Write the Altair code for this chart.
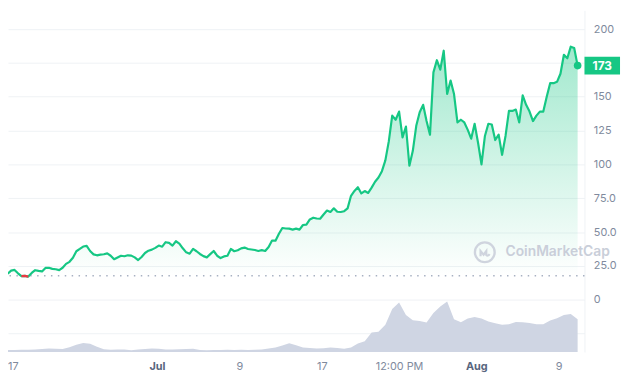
import altair as alt
import pandas as pd

# ---------------- data ----------------
BASE_PRICE = 17.7            # reference (opening) price, dotted line
PRICE_START_DAY = 0.5        # days since 16 Jun 00:00
PRICE_STEP_DAYS = 1 / 3      # one sample every 8 hours
price = [
    19.2, 21.5, 22.0, 19.5, 17.4, 17.6, 17.1, 19.8, 21.8, 21.3,
    20.9, 23.5, 23.6, 22.8, 22.5, 21.9, 23.6, 26.5, 28.0, 31.0,
    35.8, 37.5, 39.3, 39.8, 36.0, 33.5, 32.8, 33.3, 33.6, 34.2,
    32.5, 29.9, 31.2, 32.5, 32.1, 32.8, 32.6, 31.3, 29.3, 31.6,
    34.5, 36.2, 37.0, 38.3, 40.0, 39.2, 42.5, 42.0, 40.0, 43.2,
    41.5, 38.0, 35.0, 34.0, 37.5, 35.8, 33.8, 32.2, 31.3, 33.7,
    36.0, 32.5, 30.8, 32.0, 32.5, 37.5, 35.8, 36.5, 37.9, 38.5,
    37.5, 37.1, 36.7, 36.0, 36.6, 36.0, 39.0, 43.7, 43.6, 48.7,
    53.0, 52.6, 52.5, 51.8, 52.5, 51.8, 55.2, 55.5, 59.3, 60.6,
    60.0, 59.8, 63.0, 65.9, 64.8, 67.5, 65.0, 64.8, 65.4, 67.5,
    76.8, 80.4, 83.1, 78.5, 80.3, 78.9, 82.8, 87.2, 90.3, 95.0,
    103.0, 117.0, 136.0, 133.0, 139.0, 120.0, 128.0, 99.0, 110.0, 128.5,
    138.5, 144.0, 132.0, 122.0, 168.0, 177.0, 170.0, 184.0, 152.0, 162.0,
    152.0, 131.0, 133.0, 131.0, 125.5, 119.0, 130.0, 116.0, 100.0, 121.0,
    130.0, 129.5, 118.0, 122.0, 107.0, 121.0, 139.5, 139.5, 140.5, 131.0,
    151.0, 144.0, 139.0, 132.0, 136.0, 139.0, 139.0, 150.0, 160.0, 160.0,
    161.0, 167.0, 181.0, 178.4, 187.0, 186.0, 173.0,
]

VOLUME_START_DAY = 0.5
VOLUME_STEP_DAYS = 2 / 3
volume = [
    2.0, 2.0, 2.2, 2.2, 2.5, 3.0, 3.4, 3.3, 3.0, 4.8,
    7.4, 9.0, 8.2, 5.3, 2.8, 2.1, 2.4, 2.6, 1.8, 2.5,
    3.0, 3.6, 3.3, 2.6, 2.5, 2.7, 2.9, 3.3, 2.0, 1.6,
    2.0, 2.0, 2.2, 1.9, 2.1, 2.0, 2.2, 2.6, 3.4, 4.6,
    6.5, 8.7, 6.8, 4.5, 4.0, 3.4, 3.8, 4.6, 4.0, 3.3,
    4.5, 8.5, 10.8, 19.8, 20.5, 27.5, 43.5, 50.0, 37.5, 32.0,
    31.3, 29.8, 39.5, 46.0, 51.0, 33.0, 30.0, 33.8, 35.5, 34.0,
    30.8, 29.0, 27.5, 28.0, 30.3, 30.2, 29.2, 28.0, 28.0, 31.8,
    34.2, 37.3, 38.5, 33.0,
]

tick_days = [1, 15, 23, 31, 38.5, 46, 54]
tick_labels = ["17", "Jul", "9", "17", "12:00 PM", "Aug", "9"]
month_tick_days = [15, 46]
price_ticks = [-25, 0, 25, 50, 75, 100, 125, 150, 175, 200]
hidden_price_labels = [175]          # covered by the current-price badge
watermark = ["CoinMarketCap"]

# ---------------- styling ----------------
GREEN = "#16c784"
RED = "#ea3943"
GRID = "#eff2f5"
LABEL = "#808a9d"
LABEL_DARK = "#58667e"
FONT = "Inter"
W, H = 584, 346
X_DOMAIN = [0.53, 56.5]
Y_DOMAIN = [-38.6, 213.8]
VOL_DOMAIN = [0, 346]

df_price = pd.DataFrame({
    "day": [PRICE_START_DAY + i * PRICE_STEP_DAYS for i in range(len(price))],
    "price": price,
})
df_price["base"] = BASE_PRICE
df_red = df_price[df_price["price"] < BASE_PRICE]
df_last = df_price.tail(1).copy()
df_last["label"] = df_last["price"].round().astype(int).astype(str)
df_base = pd.DataFrame({"base": [BASE_PRICE]})
df_vol = pd.DataFrame({
    "day": [VOLUME_START_DAY + i * VOLUME_STEP_DAYS for i in range(len(volume))],
    "volume": volume,
})
df_wm = pd.DataFrame({"label": watermark})

label_expr = "''"
for d, lab in reversed(list(zip(tick_days, tick_labels))):
    label_expr = f"datum.value == {d} ? '{lab}' : ({label_expr})"
month_test = " || ".join(f"datum.value == {d}" for d in month_tick_days)
hidden_test = " || ".join(f"datum.value == {v}" for v in hidden_price_labels)

x_axis = alt.Axis(
    values=tick_days, labelExpr=label_expr, grid=False, domain=False,
    ticks=False, tickSize=0, labelPadding=9, labelFontSize=11, labelFont=FONT,
    labelColor={"condition": {"test": month_test, "value": LABEL_DARK}, "value": LABEL},
    labelFontWeight={"condition": {"test": month_test, "value": 700}, "value": 400},
    labelOverlap=False, labelBound=False, title=None,
)
X = alt.X("day:Q", scale=alt.Scale(domain=X_DOMAIN, nice=False, zero=False), axis=x_axis)

y_axis = alt.Axis(
    orient="right", values=price_ticks,
    labelExpr=(f"(datum.value < 0 || {hidden_test}) ? '' : (datum.value == 0 ? '0' : "
               "(datum.value < 100 ? format(datum.value, '.1f') : format(datum.value, 'd')))"),
    grid=True, gridColor=GRID, gridWidth=1, domain=True, domainColor=GRID,
    ticks=False, tickSize=0, labelPadding=9, labelFontSize=11, labelFont=FONT,
    labelColor=LABEL, labelOverlap=False, title=None,
)
y_scale = alt.Scale(domain=Y_DOMAIN, nice=False, zero=False)


def Yp(field):
    return alt.Y(f"{field}:Q", scale=y_scale, axis=y_axis)


gradient = alt.Gradient(
    gradient="linear",
    stops=[alt.GradientStop(color="rgba(22,199,132,0.0)", offset=0),
           alt.GradientStop(color="rgba(22,199,132,0.40)", offset=1)],
    x1=1, x2=1, y1=1, y2=0,
)

vol_layer = alt.Chart(df_vol).mark_area(color="#cfd5e3", opacity=1).encode(
    x=X,
    y=alt.Y("volume:Q", scale=alt.Scale(domain=VOL_DOMAIN, nice=False, zero=True), axis=None),
)

area = alt.Chart(df_price).mark_area(color=gradient).encode(x=X, y=Yp("price"), y2="base:Q")
base_rule = alt.Chart(df_base).mark_rule(
    color="#a7b1c2", strokeDash=[1.5, 5.5], strokeWidth=1.3
).encode(y=Yp("base"))
line = alt.Chart(df_price).mark_line(color=GREEN, strokeWidth=2.2, strokeJoin="round").encode(
    x=X, y=Yp("price"))
red_line = alt.Chart(df_red).mark_line(color=RED, strokeWidth=2.2, strokeJoin="round").encode(
    x=X, y=Yp("price"))
dot = alt.Chart(df_last).mark_circle(color=GREEN, size=60, opacity=1).encode(x=X, y=Yp("price"))
badge = alt.Chart(df_last).mark_rect(color=GREEN, yOffset=-9, y2Offset=9).encode(
    x=alt.value(584), x2=alt.value(620), y=Yp("price"), y2="price:Q")
badge_text = alt.Chart(df_last).mark_text(
    color="white", fontWeight="bold", fontSize=12, font=FONT, align="center", baseline="middle"
).encode(x=alt.value(602), y=Yp("price"), text="label:N")

wm_ring = alt.Chart(df_wm).mark_point(
    shape="circle", filled=False, size=400, strokeWidth=2.4, color="#cfd4de", opacity=1
).encode(x=alt.value(483), y=alt.value(245))
wm_m = alt.Chart(df_wm).mark_point(
    shape="M-0.7,0.5L-0.7,-0.35L-0.2,0.25L0.25,-0.35L0.25,0.3Q0.5,0.55 0.8,0.15",
    filled=False, size=150, strokeWidth=2.2, color="#cfd4de", opacity=1
).encode(x=alt.value(483), y=alt.value(246))
wm_text = alt.Chart(df_wm).mark_text(
    font=FONT, fontSize=14, fontWeight=600, color="#c9ced9", align="left", baseline="middle"
).encode(x=alt.value(504), y=alt.value(245), text="label:N")

price_layers = alt.layer(area, base_rule, wm_ring, wm_m, wm_text, line, red_line, dot, badge, badge_text)

chart = alt.layer(vol_layer, price_layers).resolve_scale(y="independent").properties(
    width=W, height=H,
    autosize=alt.AutoSizeParams(type="none"),
    padding={"left": 0, "top": 0, "right": 38, "bottom": 26},
    background="white",
).configure_view(stroke=None)

chart.save("out.html", embed_options={"renderer": "svg", "actions": False})
